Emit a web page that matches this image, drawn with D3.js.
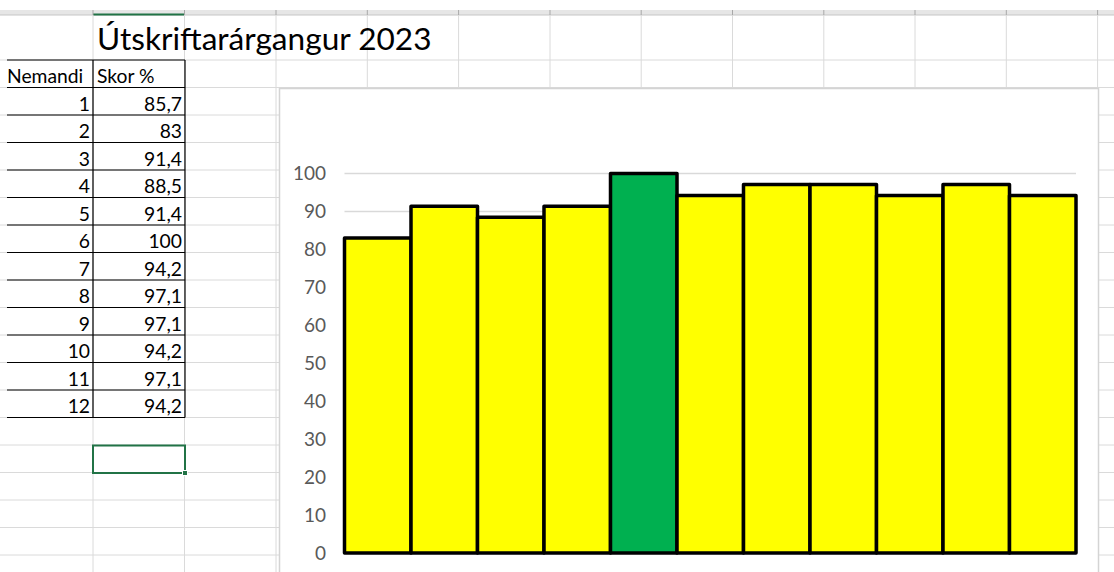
<!DOCTYPE html>
<html>
<head>
<meta charset="utf-8">
<script src="https://cdn.jsdelivr.net/npm/d3@7"></script>
<style>
  body { margin: 0; background: #fff; }
  text { font-family: Lato, "Noto Sans", sans-serif; }
</style>
</head>
<body>
<div id="sheet"></div>
<script>
// data from the sheet
var title = "Útskriftarárgangur 2023";
var headers = ["Nemandi", "Skor %"];
var students = [1, 2, 3, 4, 5, 6, 7, 8, 9, 10, 11, 12];
var scores = [85.7, 83, 91.4, 88.5, 91.4, 100, 94.2, 97.1, 97.1, 94.2, 97.1, 94.2];
var yTicks = [0, 10, 20, 30, 40, 50, 60, 70, 80, 90, 100];
// the chart only plots students 2..12
var chartStudents = students.slice(1);
var chartScores = scores.slice(1);

var width = 1114, height = 572;
var colX = [93, 184.5, 276, 367.3, 458.6, 550, 641.2, 732.5, 823.8, 915, 1006.3, 1097.6];
var rowH = 27.5, row0 = 60;

var svg = d3.select("#sheet").append("svg")
	.attr("width", width)
	.attr("height", height);

svg.append("rect").attr("width", width).attr("height", height).attr("fill", "#fff");

// column header strip
svg.append("rect").attr("x", 0).attr("y", 10).attr("width", width).attr("height", 5).attr("fill", "#e6e6e6");
svg.append("line").attr("x1", 0).attr("x2", width).attr("y1", 15).attr("y2", 15).attr("stroke", "#c6c6c6");
svg.append("line").attr("x1", 93).attr("x2", 184.5).attr("y1", 14.5).attr("y2", 14.5)
	.attr("stroke", "#217346").attr("stroke-width", 2);

// gridlines of the sheet
var grid = svg.append("g").attr("stroke", "#dadada").attr("stroke-width", 1);
colX.forEach(function(x) {
	grid.append("line").attr("x1", x).attr("x2", x).attr("y1", 15).attr("y2", height);
	grid.append("line").attr("x1", x).attr("x2", x).attr("y1", 10).attr("y2", 15).attr("stroke", "#a8a8a8");
});
for (var r = 0; r < 19; r++) {
	var yy = row0 + r * rowH;
	grid.append("line").attr("x1", 0).attr("x2", width).attr("y1", yy).attr("y2", yy);
}

// title
svg.append("text")
	.attr("x", 97).attr("y", 50)
	.attr("font-size", 31.6)
	.attr("fill", "#000")
	.text(title);

// table
var table = svg.append("g");
table.append("text").attr("x", 7).attr("y", 82.5).attr("font-size", 19.3).text(headers[0]);
table.append("text").attr("x", 97).attr("y", 82.5).attr("font-size", 19.3).text(headers[1]);

students.forEach(function(s, i) {
	var base = row0 + rowH * (i + 1) + 23;
	table.append("text").attr("x", 90).attr("y", base).attr("text-anchor", "end")
		.attr("font-size", 19.3).text(s);
	table.append("text").attr("x", 182).attr("y", base).attr("text-anchor", "end")
		.attr("font-size", 19.3).text(String(scores[i]).replace(".", ","));
});

var tb = table.append("g").attr("stroke", "#000").attr("stroke-width", 1.2);
for (var k = 0; k <= students.length + 1; k++) {
	var ly = row0 + k * rowH;
	tb.append("line").attr("x1", 7).attr("x2", 185).attr("y1", ly).attr("y2", ly);
}
[93, 185].forEach(function(x) {
	tb.append("line").attr("x1", x).attr("x2", x).attr("y1", row0).attr("y2", row0 + rowH * (students.length + 1));
});

// selected cell
svg.append("rect").attr("x", 93).attr("y", 445.5).attr("width", 92).attr("height", 27.5)
	.attr("fill", "none").attr("stroke", "#217346").attr("stroke-width", 2);
svg.append("rect").attr("x", 182.5).attr("y", 470.5).attr("width", 5).attr("height", 5)
	.attr("fill", "#217346").attr("stroke", "#fff").attr("stroke-width", 1);

// chart area
svg.append("rect").attr("x", 279.5).attr("y", 88.5).attr("width", 819).attr("height", 500)
	.attr("fill", "#fff").attr("stroke", "#d4d4d4").attr("stroke-width", 1.5);

var x = d3.scaleBand()
	.domain(chartStudents)
	.range([344.5, 1076])
	.padding(0);

var y = d3.scaleLinear()
	.domain([0, 100])
	.range([553, 173.5]);

var plot = svg.append("g");

plot.append("g")
	.selectAll("line")
	.data(yTicks.filter(function(d) { return d > 0; }))
	.enter().append("line")
		.attr("x1", 344.5).attr("x2", 1076)
		.attr("y1", function(d) { return y(d); })
		.attr("y2", function(d) { return y(d); })
		.attr("stroke", "#d9d9d9")
		.attr("stroke-width", 1.5);

var yAxis = plot.append("g")
	.attr("transform", "translate(326,0)")
	.call(d3.axisLeft(y).tickValues(yTicks).tickSize(0).tickPadding(0));
yAxis.select(".domain").remove();
yAxis.selectAll("text")
	.attr("font-family", "Lato, 'Noto Sans', sans-serif")
	.attr("font-size", 19)
	.attr("fill", "#595959");

plot.append("line")
	.attr("x1", 344.5).attr("x2", 1076)
	.attr("y1", y(0)).attr("y2", y(0))
	.attr("stroke", "#595959").attr("stroke-width", 1.5);

plot.append("g")
	.selectAll("rect")
	.data(chartScores)
	.enter().append("rect")
		.attr("x", function(d, i) { return x(chartStudents[i]); })
		.attr("y", function(d) { return y(d); })
		.attr("width", x.bandwidth())
		.attr("height", function(d) { return y(0) - y(d); })
		.attr("fill", function(d) { return d === 100 ? "#00b050" : "#ffff00"; })
		.attr("stroke", "#000")
		.attr("stroke-width", 3.5)
		.attr("stroke-linejoin", "round");
</script>
</body>
</html>
